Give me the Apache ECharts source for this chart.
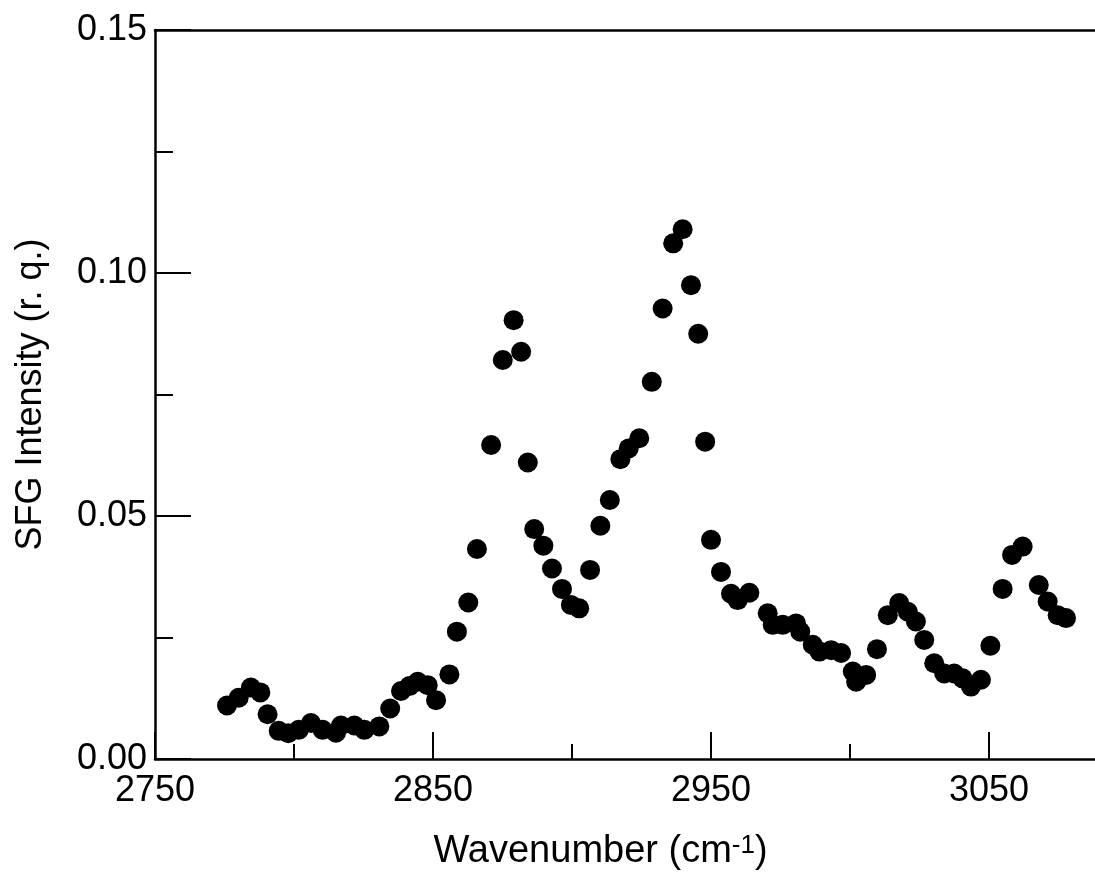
<!DOCTYPE html>
<html>
<head>
<meta charset="utf-8">
<script src="https://cdn.jsdelivr.net/npm/echarts@6/dist/echarts.min.js"></script>
<style>
  html, body { margin: 0; padding: 0; background: #fff; }
  #chart { width: 1095px; height: 878px; }
</style>
</head>
<body>
<div id="chart"></div>
<script>
// wavenumbers (cm-1) and SFG intensity
var wavenumber = [
  2775.9, 2780.1, 2784.5, 2787.9, 2790.5, 2794.5, 2797.9, 2801.7, 2806.1, 2810.3,
  2815.1, 2816.9, 2821.7, 2825.3, 2830.7, 2834.6, 2838.5, 2841.5, 2844.5, 2848.1,
  2851.1, 2855.9, 2858.6, 2862.7, 2865.8, 2870.9, 2875.1, 2879.0, 2881.7, 2884.1,
  2886.4, 2889.7, 2892.8, 2896.4, 2899.6, 2902.6, 2906.5, 2910.2, 2913.6, 2917.4,
  2920.4, 2924.2, 2928.7, 2932.6, 2936.4, 2939.8, 2942.8, 2945.4, 2947.9, 2950.0,
  2953.6, 2957.2, 2959.6, 2963.8, 2970.4, 2972.2, 2975.8, 2980.6, 2982.1, 2986.6,
  2989.0, 2993.2, 2996.8, 3001.0, 3002.2, 3005.8, 3009.7, 3013.6, 3017.7, 3020.8,
  3023.7, 3026.7, 3030.3, 3033.9, 3037.5, 3040.5, 3043.5, 3047.1, 3050.5, 3054.9,
  3058.3, 3062.1, 3067.9, 3071.1, 3074.7, 3077.7
];
var intensity = [
  0.0110, 0.0126, 0.0147, 0.0137, 0.0092, 0.0058, 0.0053, 0.0060, 0.0074, 0.0060,
  0.0054, 0.0069, 0.0069, 0.0060, 0.0067, 0.0104, 0.0140, 0.0150, 0.0159, 0.0152,
  0.0121, 0.0174, 0.0262, 0.0322, 0.0432, 0.0646, 0.0821, 0.0903, 0.0838, 0.0610,
  0.0473, 0.0439, 0.0392, 0.0350, 0.0317, 0.0310, 0.0389, 0.0480, 0.0533, 0.0617,
  0.0639, 0.0660, 0.0776, 0.0927, 0.1061, 0.1090, 0.0975, 0.0875, 0.0653, 0.0451,
  0.0385, 0.0340, 0.0327, 0.0342, 0.0300, 0.0276, 0.0276, 0.0279, 0.0262, 0.0235,
  0.0221, 0.0224, 0.0218, 0.0180, 0.0159, 0.0173, 0.0226, 0.0296, 0.0321, 0.0303,
  0.0283, 0.0245, 0.0197, 0.0176, 0.0176, 0.0166, 0.0149, 0.0163, 0.0233, 0.0350,
  0.0420, 0.0437, 0.0358, 0.0324, 0.0296, 0.0290
];
var xLabels = ['2750', '2850', '2950', '3050'];
var yLabels = ['0.00', '0.05', '0.10', '0.15'];

var points = wavenumber.map(function (w, i) { return [w, intensity[i]]; });

var font = 'Liberation Sans, Arial, Helvetica, sans-serif';
var ink = '#000';

var chart = echarts.init(document.getElementById('chart'), null, { renderer: 'canvas' });

var option = {
  backgroundColor: '#fff',
  animation: false,
  grid: { left: 155, right: -33, top: 30, bottom: 119, containLabel: false, outerBoundsMode: 'none' },
  xAxis: [
    {
      type: 'value',
      position: 'bottom',
      min: 2750,
      max: 3100,
      interval: 100,
      name: 'Wavenumber (cm{sup|-1})',
      nameLocation: 'middle',
      nameGap: 74,
      nameTextStyle: {
        color: ink, fontFamily: font, fontSize: 38, padding: [0, 82, 0, 0],
        rich: { sup: { fontSize: 26, fontFamily: font, color: ink, verticalAlign: 'top', padding: [0, 0, 8, 0] } }
      },
      axisLine: { show: true, lineStyle: { color: ink, width: 2.5 } },
      axisTick: { show: true, inside: true, length: 27, lineStyle: { color: ink, width: 2 } },
      axisLabel: {
        color: ink, fontFamily: font, fontSize: 36, margin: 14,
        formatter: function (v) {
          var s = String(Math.round(v));
          return xLabels.indexOf(s) >= 0 ? s : '';
        }
      },
      splitLine: { show: false }
    },
    {
      // minor ticks every 50
      type: 'value',
      position: 'bottom',
      min: 2750,
      max: 3100,
      interval: 50,
      axisLine: { show: false },
      axisTick: { show: true, inside: true, length: 15, lineStyle: { color: ink, width: 2 } },
      axisLabel: { show: false },
      splitLine: { show: false }
    },
    {
      // top frame
      type: 'value',
      position: 'top',
      min: 2750,
      max: 3100,
      axisLine: { show: true, lineStyle: { color: ink, width: 2.5 } },
      axisTick: { show: false },
      axisLabel: { show: false },
      splitLine: { show: false }
    }
  ],
  yAxis: {
    type: 'value',
    min: 0,
    max: 0.15,
    interval: 0.05,
    name: 'SFG Intensity (r. q.)',
    nameLocation: 'middle',
    nameGap: 106,
    nameTextStyle: { color: ink, fontFamily: font, fontSize: 36 },
    axisLine: { show: true, lineStyle: { color: ink, width: 2.5 } },
    axisTick: { show: true, inside: true, length: 36, lineStyle: { color: ink, width: 2 } },
    minorTick: { show: true, splitNumber: 2, length: 18, lineStyle: { color: ink, width: 2 } },
    axisLabel: {
      color: ink, fontFamily: font, fontSize: 36, margin: 8,
      formatter: function (v) {
        var s = v.toFixed(2);
        return yLabels.indexOf(s) >= 0 ? s : '';
      }
    },
    splitLine: { show: false }
  },
  series: [
    {
      type: 'scatter',
      xAxisIndex: 0,
      data: points,
      symbol: 'circle',
      symbolSize: 20,
      itemStyle: { color: ink, opacity: 1 },
      emphasis: { disabled: true }
    }
  ]
};

chart.setOption(option);
</script>
</body>
</html>
